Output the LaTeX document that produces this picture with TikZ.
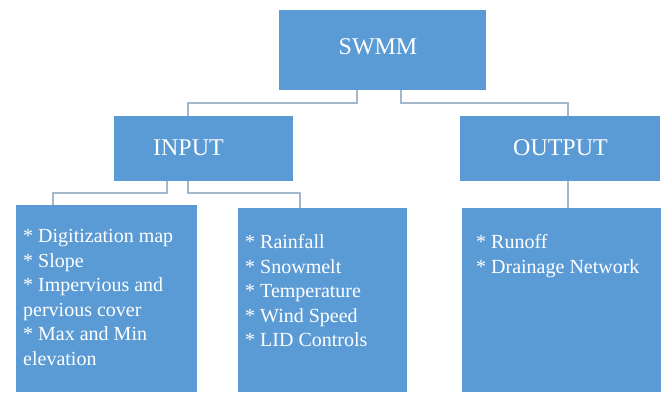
\documentclass[tikz,border=0pt]{standalone}
\usepackage{fontspec}
\setmainfont{Liberation Serif}
\definecolor{boxblue}{HTML}{5B9BD5}
\definecolor{connblue}{HTML}{A3B7CD}
\begin{document}
\begin{tikzpicture}[x=1pt,y=-1pt,
  box/.style={draw=none, fill=boxblue, inner sep=0pt, outer sep=0pt, rectangle},
  title/.style={text=white, inner sep=0pt, font=\fontsize{24}{28}\selectfont},
  list/.style={text=white, inner sep=0pt, anchor=north west, align=left, font=\fontsize{20}{24.5}\selectfont},
  conn/.style={draw=connblue, line width=1.5pt}]
\useasboundingbox (0,0) rectangle (664,394);
\node[box, minimum width=207pt, minimum height=80pt] (swmm) at (382.5,50) {};
\node[box, minimum width=179pt, minimum height=65pt] (input) at (203.5,148.5) {};
\node[box, minimum width=200pt, minimum height=65pt] (output) at (560,148.5) {};
\node[box, minimum width=181pt, minimum height=187pt] (box1) at (106.5,298.5) {};
\node[box, minimum width=169pt, minimum height=184pt] (box2) at (322.5,300) {};
\node[box, minimum width=199pt, minimum height=184pt] (box3) at (561.5,300) {};

\node[title] (tswmm) at (378,47) {SWMM};
\node[title] (tinput) at (188.5,148) {INPUT};
\node[title] (toutput) at (560.5,148) {OUTPUT};

\node[list] (l1) at (23,229.5) {* Digitization map\\* Slope\\* Impervious and\\pervious cover\\* Max and Min\\elevation};
\node[list] (l2) at (245,234.5) {* Rainfall\\* Snowmelt\\* Temperature\\* Wind Speed\\* LID Controls};
\node[list] (l3) at (476,234.5) {* Runoff\\* Drainage Network};

\draw[conn] ([xshift=-25.5pt]swmm.south) -- ++(0,13) -| ([xshift=-15.5pt]input.north);
\draw[conn] ([xshift=18.5pt]swmm.south) -- ++(0,13) -| ([xshift=8pt]output.north);
\draw[conn] ([xshift=-36.5pt]input.south) -- ++(0,12) -| ([xshift=-53.5pt]box1.north);
\draw[conn] ([xshift=-15.5pt]input.south) -- ++(0,12) -| ([xshift=-22.5pt]box2.north);
\draw[conn] ([xshift=8pt]output.south) -- ([xshift=8pt]output.south |- box3.north);
\end{tikzpicture}
\end{document}
